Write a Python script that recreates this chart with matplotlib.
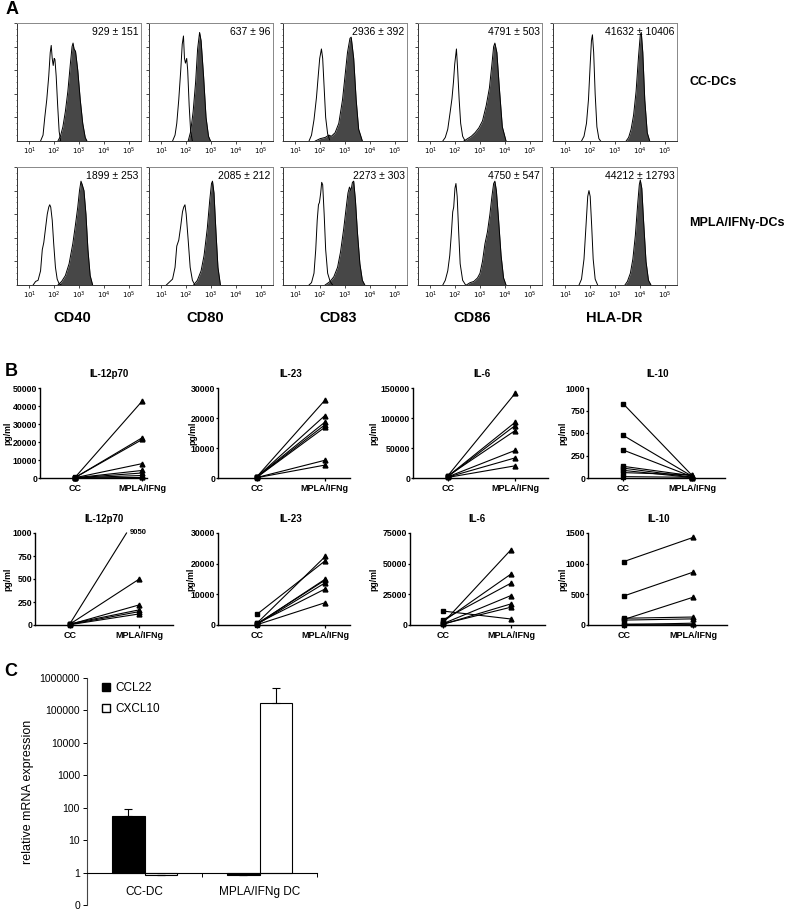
import numpy as np
import matplotlib
matplotlib.use("Agg")
import matplotlib.pyplot as plt
from matplotlib.ticker import LogLocator, MultipleLocator, NullFormatter
from matplotlib.patches import Patch

plt.rcParams['font.family'] = ['Liberation Sans', 'DejaVu Sans']

W, H = 789, 910

# ---------------- panel A: flow histograms (log10 fluorescence, relative count) ----------------
markers_a = ["CD40", "CD80", "CD83", "CD86", "HLA-DR"]
rows_a = ["CC-DCs", "MPLA/IFNγ-DCs"]
mfi_cc = ["929 ± 151", "637 ± 96", "2936 ± 392", "4791 ± 503", "41632 ± 10406"]
mfi_mpla = ["1899 ± 253", "2085 ± 212", "2273 ± 303", "4750 ± 547", "44212 ± 12793"]

# CC-DC row
cd40_cc_open_x = [1.45, 1.55, 1.62, 1.7, 1.78, 1.84, 1.88, 1.92, 1.96, 2.0, 2.03, 2.08, 2.14, 2.2, 2.26]
cd40_cc_open_y = [0, 0.05, 0.2, 0.35, 0.55, 0.75, 0.81, 0.7, 0.64, 0.7, 0.69, 0.55, 0.3, 0.08, 0]
cd40_cc_fill_x = [2.15, 2.25, 2.35, 2.45, 2.55, 2.65, 2.72, 2.76, 2.8, 2.86, 2.95, 3.05, 3.15, 3.25, 3.32]
cd40_cc_fill_y = [0, 0.04, 0.12, 0.25, 0.42, 0.65, 0.8, 0.83, 0.78, 0.76, 0.6, 0.35, 0.15, 0.03, 0]
cd80_cc_open_x = [1.45, 1.55, 1.62, 1.7, 1.78, 1.84, 1.89, 1.93, 1.97, 2.02, 2.06, 2.12, 2.18, 2.25]
cd80_cc_open_y = [0, 0.05, 0.15, 0.35, 0.6, 0.82, 0.89, 0.7, 0.66, 0.7, 0.6, 0.3, 0.08, 0]
cd80_cc_fill_x = [2.08, 2.18, 2.28, 2.38, 2.46, 2.54, 2.6, 2.7, 2.8, 2.9, 2.98]
cd80_cc_fill_y = [0, 0.08, 0.25, 0.5, 0.78, 0.92, 0.85, 0.55, 0.2, 0.04, 0]
cd83_cc_open_x = [1.55, 1.65, 1.75, 1.85, 1.92, 1.98, 2.05, 2.1, 2.16, 2.22, 2.3, 2.38]
cd83_cc_open_y = [0, 0.05, 0.18, 0.37, 0.55, 0.7, 0.78, 0.7, 0.45, 0.2, 0.06, 0.01]
cd83_cc_fill_x = [1.8, 2.0, 2.2, 2.35, 2.45, 2.6, 2.75, 2.9, 3.0, 3.1, 3.2, 3.25, 3.35, 3.45, 3.55, 3.7]
cd83_cc_fill_y = [0, 0.02, 0.03, 0.05, 0.04, 0.07, 0.15, 0.35, 0.55, 0.75, 0.87, 0.88, 0.7, 0.35, 0.1, 0]
cd86_cc_open_x = [1.5, 1.6, 1.7, 1.8, 1.87, 1.93, 1.98, 2.05, 2.1, 2.16, 2.22, 2.3, 2.4]
cd86_cc_open_y = [0, 0.03, 0.1, 0.25, 0.36, 0.5, 0.65, 0.78, 0.6, 0.35, 0.15, 0.04, 0]
cd86_cc_fill_x = [2.35, 2.5, 2.65, 2.8, 2.95, 3.1, 3.25, 3.38, 3.48, 3.55, 3.6, 3.68, 3.78, 3.9, 4.05]
cd86_cc_fill_y = [0, 0.02, 0.04, 0.07, 0.11, 0.17, 0.3, 0.45, 0.65, 0.8, 0.83, 0.75, 0.45, 0.12, 0]
hla_cc_open_x = [1.65, 1.75, 1.85, 1.93, 2.0, 2.05, 2.09, 2.14, 2.2, 2.27, 2.35, 2.42]
hla_cc_open_y = [0, 0.04, 0.15, 0.35, 0.65, 0.85, 0.9, 0.75, 0.4, 0.12, 0.02, 0]
hla_cc_fill_x = [3.45, 3.55, 3.65, 3.75, 3.85, 3.95, 4.02, 4.06, 4.12, 4.2, 4.3, 4.4]
hla_cc_fill_y = [0, 0.03, 0.1, 0.22, 0.42, 0.72, 0.9, 0.92, 0.75, 0.35, 0.07, 0]

# MPLA/IFNg-DC row
cd40_mp_open_x = [1.15, 1.25, 1.35, 1.45, 1.52, 1.58, 1.65, 1.72, 1.78, 1.82, 1.86, 1.92, 1.98, 2.05, 2.12, 2.2, 2.28]
cd40_mp_open_y = [0, 0.03, 0.04, 0.12, 0.3, 0.36, 0.48, 0.6, 0.66, 0.68, 0.66, 0.55, 0.35, 0.15, 0.05, 0.01, 0]
cd40_mp_fill_x = [2.15, 2.3, 2.45, 2.6, 2.75, 2.85, 2.95, 3.02, 3.08, 3.13, 3.2, 3.28, 3.36, 3.45, 3.55]
cd40_mp_fill_y = [0, 0.03, 0.08, 0.18, 0.35, 0.5, 0.66, 0.8, 0.88, 0.85, 0.8, 0.6, 0.3, 0.08, 0]
cd80_mp_open_x = [1.2, 1.35, 1.45, 1.55, 1.62, 1.7, 1.78, 1.85, 1.9, 1.95, 2.0, 2.08, 2.16, 2.25, 2.35]
cd80_mp_open_y = [0, 0.03, 0.05, 0.15, 0.33, 0.38, 0.5, 0.62, 0.66, 0.68, 0.6, 0.38, 0.15, 0.04, 0]
cd80_mp_fill_x = [2.3, 2.45, 2.6, 2.72, 2.85, 2.95, 3.02, 3.06, 3.12, 3.2, 3.28, 3.38]
cd80_mp_fill_y = [0, 0.04, 0.12, 0.25, 0.48, 0.72, 0.86, 0.88, 0.78, 0.45, 0.15, 0]
cd83_mp_open_x = [1.55, 1.65, 1.75, 1.82, 1.88, 1.93, 1.97, 2.02, 2.06, 2.1, 2.16, 2.22, 2.3, 2.4, 2.5]
cd83_mp_open_y = [0, 0.02, 0.1, 0.3, 0.55, 0.68, 0.7, 0.78, 0.87, 0.85, 0.6, 0.3, 0.1, 0.03, 0]
cd83_mp_fill_x = [2.2, 2.4, 2.55, 2.7, 2.82, 2.95, 3.05, 3.12, 3.18, 3.24, 3.3, 3.35, 3.42, 3.5, 3.6, 3.7, 3.8]
cd83_mp_fill_y = [0, 0.03, 0.07, 0.15, 0.28, 0.48, 0.66, 0.78, 0.83, 0.8, 0.87, 0.88, 0.72, 0.45, 0.18, 0.04, 0]
cd86_mp_open_x = [1.5, 1.6, 1.7, 1.78, 1.85, 1.9, 1.94, 1.99, 2.03, 2.08, 2.14, 2.2, 2.3, 2.42]
cd86_mp_open_y = [0, 0.04, 0.12, 0.25, 0.45, 0.62, 0.66, 0.82, 0.86, 0.75, 0.45, 0.18, 0.04, 0]
cd86_mp_fill_x = [2.45, 2.6, 2.75, 2.9, 3.0, 3.1, 3.2, 3.3, 3.4, 3.48, 3.55, 3.6, 3.66, 3.75, 3.85, 3.95, 4.05]
cd86_mp_fill_y = [0, 0.02, 0.03, 0.06, 0.1, 0.2, 0.35, 0.45, 0.6, 0.75, 0.86, 0.88, 0.8, 0.55, 0.25, 0.06, 0]
hla_mp_open_x = [1.55, 1.65, 1.75, 1.83, 1.9, 1.95, 2.0, 2.06, 2.12, 2.2, 2.3]
hla_mp_open_y = [0, 0.05, 0.22, 0.5, 0.75, 0.8, 0.75, 0.5, 0.22, 0.05, 0]
hla_mp_fill_x = [3.4, 3.5, 3.62, 3.72, 3.82, 3.92, 3.98, 4.02, 4.08, 4.15, 4.25, 4.35, 4.45]
hla_mp_fill_y = [0, 0.03, 0.1, 0.22, 0.42, 0.7, 0.85, 0.89, 0.82, 0.55, 0.2, 0.04, 0]

hist_cc = [
    (cd40_cc_open_x, cd40_cc_open_y, cd40_cc_fill_x, cd40_cc_fill_y),
    (cd80_cc_open_x, cd80_cc_open_y, cd80_cc_fill_x, cd80_cc_fill_y),
    (cd83_cc_open_x, cd83_cc_open_y, cd83_cc_fill_x, cd83_cc_fill_y),
    (cd86_cc_open_x, cd86_cc_open_y, cd86_cc_fill_x, cd86_cc_fill_y),
    (hla_cc_open_x, hla_cc_open_y, hla_cc_fill_x, hla_cc_fill_y),
]
hist_mp = [
    (cd40_mp_open_x, cd40_mp_open_y, cd40_mp_fill_x, cd40_mp_fill_y),
    (cd80_mp_open_x, cd80_mp_open_y, cd80_mp_fill_x, cd80_mp_fill_y),
    (cd83_mp_open_x, cd83_mp_open_y, cd83_mp_fill_x, cd83_mp_fill_y),
    (cd86_mp_open_x, cd86_mp_open_y, cd86_mp_fill_x, cd86_mp_fill_y),
    (hla_mp_open_x, hla_mp_open_y, hla_mp_fill_x, hla_mp_fill_y),
]

# ---------------- panel B: cytokines (pg/ml), paired CC vs MPLA/IFNg ----------------
groups_b = ["CC", "MPLA/IFNg"]
il12_top_cc = [300, 200, 250, 150, 100, 50, 80, 30]
il12_top_mp = [42800, 22400, 21400, 8000, 4200, 2800, 1400, 300]
il23_top_cc = [400, 300, 350, 250, 200, 150, 100]
il23_top_mp = [25900, 20800, 18600, 17700, 16900, 5900, 4300]
il6_top_cc = [4000, 3000, 2500, 3500, 2000, 1500, 1000]
il6_top_mp = [141000, 92800, 87400, 79000, 46000, 33500, 20300]
il10_top_cc = [826, 474, 311, 130, 110, 85, 60, 15]
il10_top_mp = [30, 20, 15, 25, 10, 5, 35, 8]

il12_bot_cc = [10, 8, 5, 12, 6, 3]
il12_bot_mp = [9050, 498, 218, 164, 145, 120]
il23_bot_cc = [3500, 600, 400, 300, 200, 500, 100]
il23_bot_mp = [21000, 22400, 14700, 15000, 13800, 11800, 7300]
il6_bot_cc = [11400, 4100, 2700, 1500, 1000, 500, 800]
il6_bot_mp = [4900, 34100, 41500, 61300, 24000, 17200, 14500]
il10_bot_cc = [1035, 474, 90, 110, 80, 5, 15]
il10_bot_mp = [1428, 862, 453, 130, 100, 30, 10]

# ---------------- panel C: relative mRNA ----------------
groups_c = ["CC-DC", "MPLA/IFNg DC"]
ccl22 = [57, 0.85]
ccl22_err = [36, 0]
cxcl10 = [0.85, 168000]
cxcl10_err = [0, 332000]

fig = plt.figure(figsize=(W / 100, H / 100), dpi=100)


def px_axes(left, top, width, height):
    return fig.add_axes([left / W, 1 - (top + height) / H, width / W, height / H])


def ftext(x, y, s, **kw):
    fig.text(x / W, 1 - y / H, s, **kw)


# ---- A ----
box_lefts = [17, 149, 283, 418, 553]
row_tops = [23, 167]
for r, (hists, mfis) in enumerate([(hist_cc, mfi_cc), (hist_mp, mfi_mpla)]):
    for j in range(5):
        ax = px_axes(box_lefts[j], row_tops[r], 124, 118)
        ox, oy, fx, fy = hists[j]
        ax.fill_between(10 ** np.array(fx), fy, color="#474747", lw=0)
        ax.plot(10 ** np.array(fx), fy, color="k", lw=0.7)
        ax.plot(10 ** np.array(ox), oy, color="k", lw=0.7)
        ax.set_xscale("log")
        ax.set_xlim(10 ** 0.5, 10 ** 5.5)
        ax.set_ylim(0, 1)
        ax.set_xticks([1e1, 1e2, 1e3, 1e4, 1e5])
        ax.set_xticklabels(["$10^{%d}$" % k for k in range(1, 6)], fontsize=5)
        ax.xaxis.set_minor_locator(LogLocator(base=10, subs=np.arange(2, 10)))
        ax.xaxis.set_minor_formatter(NullFormatter())
        ax.set_yticks([0.2, 0.4, 0.6, 0.8, 1.0])
        ax.set_yticklabels([])
        ax.yaxis.set_minor_locator(MultipleLocator(0.05))
        ax.tick_params(which="major", direction="out", length=2, width=0.5, pad=1.5)
        ax.tick_params(which="minor", direction="out", length=1, width=0.4)
        for s in ["top", "right"]:
            ax.spines[s].set_color("#888888")
        for s in ["left", "bottom"]:
            ax.spines[s].set_color("#333333")
        for s in ax.spines.values():
            s.set_linewidth(0.7)
        ax.text(0.98, 0.97, mfis[j], transform=ax.transAxes, ha="right", va="top", fontsize=7.5)

label_x = [72, 205, 338, 472, 614]
for j, m in enumerate(markers_a):
    ftext(label_x[j], 318, m, ha="center", va="center", fontsize=10.5, fontweight="bold")
ftext(689, 82, rows_a[0], ha="left", va="center", fontsize=9, fontweight="bold")
ftext(689, 223, rows_a[1], ha="left", va="center", fontsize=9, fontweight="bold")

# ---- B ----
specs_b = [
    # title, cc, mpla, ymax, yticks, left, right, top, height, xlim, ylabel right edge (px)
    ("IL-12p70", il12_top_cc, il12_top_mp, 50000, [0, 10000, 20000, 30000, 40000, 50000], 40, 147, 388, 90, (-0.52, 1.07), 12),
    ("IL-23", il23_top_cc, il23_top_mp, 30000, [0, 10000, 20000, 30000], 218, 350, 388, 90, (-0.57, 1.37), 197),
    ("IL-6", il6_top_cc, il6_top_mp, 150000, [0, 50000, 100000, 150000], 413, 548, 388, 90, (-0.52, 1.49), 378),
    ("IL-10", il10_top_cc, il10_top_mp, 1000, [0, 250, 500, 750, 1000], 588, 725, 388, 90, (-0.51, 1.48), 567),
    ("IL-12p70", il12_bot_cc, il12_bot_mp, 1000, [0, 250, 500, 750, 1000], 35, 173, 533, 92, (-0.5, 1.49), 12),
    ("IL-23", il23_bot_cc, il23_bot_mp, 30000, [0, 10000, 20000, 30000], 218, 350, 533, 92, (-0.57, 1.36), 195),
    ("IL-6", il6_bot_cc, il6_bot_mp, 75000, [0, 25000, 50000, 75000], 410, 545, 533, 92, (-0.48, 1.5), 378),
    ("IL-10", il10_bot_cc, il10_bot_mp, 1500, [0, 500, 1000, 1500], 588, 727, 533, 92, (-0.52, 1.49), 567),
]
off_scale_frac = 0.82
for title, cc, mp, ymax, yt, left, right, top, hgt, xl, ylab_x in specs_b:
    ax = px_axes(left, top, right - left, hgt)
    for c, m in zip(cc, mp):
        if m > ymax:
            ax.plot([0, off_scale_frac], [c, ymax], color="k", lw=0.8, clip_on=False)
            ax.text(off_scale_frac + 0.04, ymax, str(m), fontsize=5.5, fontweight="bold",
                    ha="left", va="center")
        else:
            ax.plot([0, 1], [c, m], color="k", lw=0.8, clip_on=False)
    ax.plot([0] * len(cc), cc, "ks", ms=3, clip_on=False)
    ax.plot([1] * len(mp), [v if v <= ymax else np.nan for v in mp], "k^", ms=3.5, clip_on=False)
    ax.set_xlim(*xl)
    ax.set_ylim(0, ymax)
    ax.set_yticks(yt)
    ax.set_yticklabels([str(v) for v in yt], fontsize=6.3, fontweight="bold")
    ax.set_xticks([0, 1])
    ax.set_xticklabels(groups_b, fontsize=6.5, fontweight="bold")
    ax.set_ylabel("pg/ml", fontsize=6.3, fontweight="bold")
    ax.yaxis.set_label_coords((ylab_x - left) / (right - left), 0.5)
    ax.set_title(title, fontsize=7, fontweight="bold", pad=8, x=(0.5 - xl[0]) / (xl[1] - xl[0]))
    for s in ["top", "right"]:
        ax.spines[s].set_visible(False)
    for s in ["left", "bottom"]:
        ax.spines[s].set_linewidth(1.0)
    ax.tick_params(axis="y", direction="out", length=1.5, width=0.9, pad=0.6)
    ax.tick_params(axis="x", direction="out", length=2.5, width=0.9, pad=1.5)

# ---- C ----
axc = px_axes(87, 678, 230, 227)
x = np.array([1.0, 3.0])
bw = 0.57
axc.bar(x - bw / 2, np.array(ccl22) - 1, bottom=1, width=bw, color="black", edgecolor="black", lw=0.8)
axc.bar(x + bw / 2, np.array(cxcl10) - 1, bottom=1, width=bw, color="white", edgecolor="black", lw=0.8)
axc.errorbar(x - bw / 2, ccl22, yerr=[[0, 0], ccl22_err], fmt="none", ecolor="k", elinewidth=0.8, capsize=3, capthick=0.8)
axc.errorbar(x + bw / 2, cxcl10, yerr=[[0, 0], cxcl10_err], fmt="none", ecolor="k", elinewidth=0.8, capsize=3, capthick=0.8)
axc.set_yscale("log")
axc.set_ylim(0.1, 1e6)
axc.set_xlim(0, 4)
yt_c = [0.1, 1, 10, 100, 1000, 10000, 100000, 1000000]
axc.set_yticks(yt_c)
axc.set_yticklabels(["0", "1", "10", "100", "1000", "10000", "100000", "1000000"], fontsize=7.5)
axc.yaxis.set_minor_locator(matplotlib.ticker.NullLocator())
axc.spines["bottom"].set_position(("data", 1))
axc.spines["top"].set_visible(False)
axc.spines["right"].set_visible(False)
axc.spines["left"].set_color("#444444")
axc.set_xticks([2, 4])
axc.set_xticklabels([])
axc.set_xticks(x, minor=True)
axc.set_xticklabels(groups_c, minor=True, fontsize=8.5)
axc.tick_params(axis="x", which="minor", length=0, pad=10)
axc.tick_params(axis="x", which="major", length=3, width=0.7, direction="out")
axc.tick_params(axis="y", length=3, width=0.7, direction="out", pad=2)
axc.set_ylabel("relative mRNA expression", fontsize=9, labelpad=4)
handles = [Patch(facecolor="black", edgecolor="black", label="CCL22"),
           Patch(facecolor="white", edgecolor="black", label="CXCL10")]
axc.legend(handles=handles, loc="upper left", bbox_to_anchor=(0.02, 1.03), frameon=False,
           fontsize=8.5, handlelength=0.7, handleheight=0.7, handletextpad=0.4, labelspacing=0.8)

# panel letters
ftext(12, 10, "A", fontsize=13, fontweight="bold", ha="center", va="center")
ftext(11, 372, "B", fontsize=13, fontweight="bold", ha="center", va="center")
ftext(11, 672, "C", fontsize=13, fontweight="bold", ha="center", va="center")

fig.savefig("out.png", dpi=100)
